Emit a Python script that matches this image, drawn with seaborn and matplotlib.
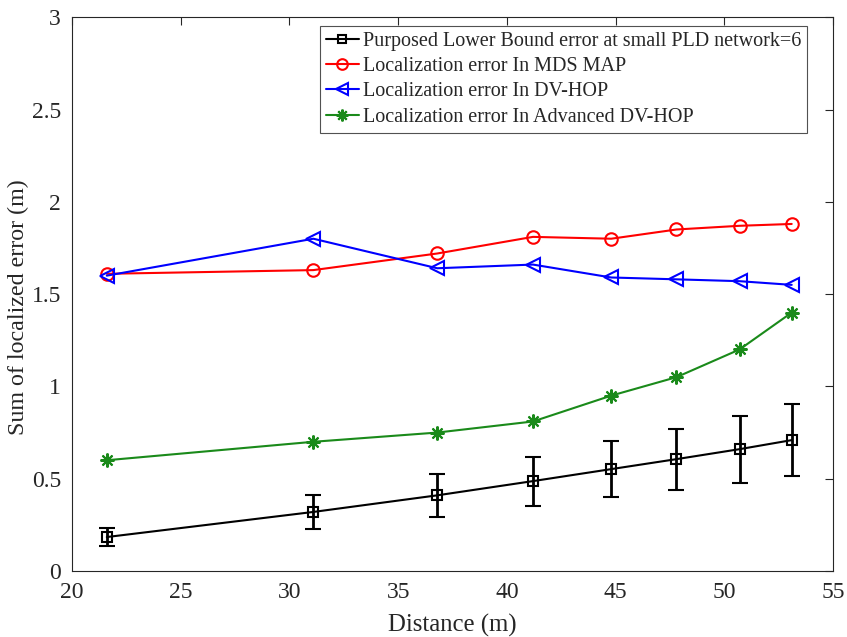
import matplotlib
matplotlib.use("Agg")
import matplotlib.pyplot as plt
from matplotlib.lines import Line2D
import seaborn as sns
import pandas as pd
import numpy as np

distance = [21.6, 31.1, 36.8, 41.2, 44.8, 47.8, 50.7, 53.1]
lower_bound = [0.184, 0.32, 0.41, 0.487, 0.552, 0.606, 0.66, 0.709]
lower_bound_err = [0.05, 0.09, 0.115, 0.133, 0.152, 0.165, 0.182, 0.195]
mds_map = [1.61, 1.63, 1.72, 1.81, 1.80, 1.85, 1.87, 1.88]
dv_hop = [1.60, 1.80, 1.64, 1.66, 1.59, 1.58, 1.57, 1.55]
adv_dv_hop = [0.60, 0.70, 0.75, 0.81, 0.95, 1.05, 1.20, 1.40]

labels = ["Purposed Lower Bound error at small PLD network=6",
          "Localization error In MDS MAP",
          "Localization error In DV-HOP",
          "Localization error In Advanced DV-HOP"]

sns.set_style("white")
plt.rcParams['font.family'] = ['Liberation Serif', 'DejaVu Serif']
plt.rcParams['mathtext.fontset'] = 'stix'

fig = plt.figure(figsize=(8.47, 6.37), dpi=100)
ax = fig.add_axes([0.085, 0.1036, 0.8985, 0.8694])

df = pd.DataFrame({"Distance": distance * 3,
                   "Error": mds_map + dv_hop + adv_dv_hop,
                   "Series": [labels[1]] * 8 + [labels[2]] * 8 + [labels[3]] * 8})

ax.errorbar(distance, lower_bound, yerr=lower_bound_err, color="black", lw=1.5,
            marker="s", ms=7, mfc="none", mew=1.5, capsize=6, capthick=2, elinewidth=2,
            zorder=3)

green = "#1a8a1a"
styles = {labels[1]: ("red", "o", 9), labels[2]: ("blue", "<", 10), labels[3]: (green, (8, 2, 0), 10)}
for name in labels[1:]:
    c, m, s = styles[name]
    sub = df[df["Series"] == name]
    sns.lineplot(data=sub, x="Distance", y="Error", ax=ax, color=c, marker=m, ms=s,
                 mfc="none", mec=c, mew=1.5, lw=1.5, legend=False)

handles = [Line2D([], [], color="black", marker="s", ms=6, mfc="none", mew=1.5, lw=1.5)]
for name in labels[1:]:
    c, m, s = styles[name]
    handles.append(Line2D([], [], color=c, marker=m, ms=s * 0.85, mfc="none", mec=c, mew=1.5, lw=1.5))

ax.set_xlim(20, 55)
ax.set_ylim(0, 3)
ax.set_xticks(np.arange(20, 56, 5))
ax.set_yticks([0, 0.5, 1, 1.5, 2, 2.5, 3])
ax.set_yticklabels(["0", "0.5", "1", "1.5", "2", "2.5", "3"])
ax.set_xlabel("Distance (m)", fontsize=17.8, color="#262626", labelpad=8)
ax.set_ylabel("Sum of localized error (m)", fontsize=17.3, color="#262626")
ax.yaxis.set_label_coords(-0.056, 0.4765)
ax.tick_params(direction="in", top=True, right=True, length=6, width=0.8,
               labelsize=17, colors="#262626", pad=8)
for sp in ax.spines.values():
    sp.set_color("#262626")
    sp.set_linewidth(0.8)

leg = ax.legend(handles, labels, loc="upper right", bbox_to_anchor=(807 / 847, 611 / 637),
                bbox_transform=fig.transFigure, fontsize=14.5, frameon=True, fancybox=False,
                edgecolor="#262626", handlelength=1.6, handletextpad=0.2,
                borderaxespad=0.0, labelspacing=0.3, borderpad=0.3)
leg.get_frame().set_linewidth(0.8)

fig.savefig("out.png", dpi=100)
